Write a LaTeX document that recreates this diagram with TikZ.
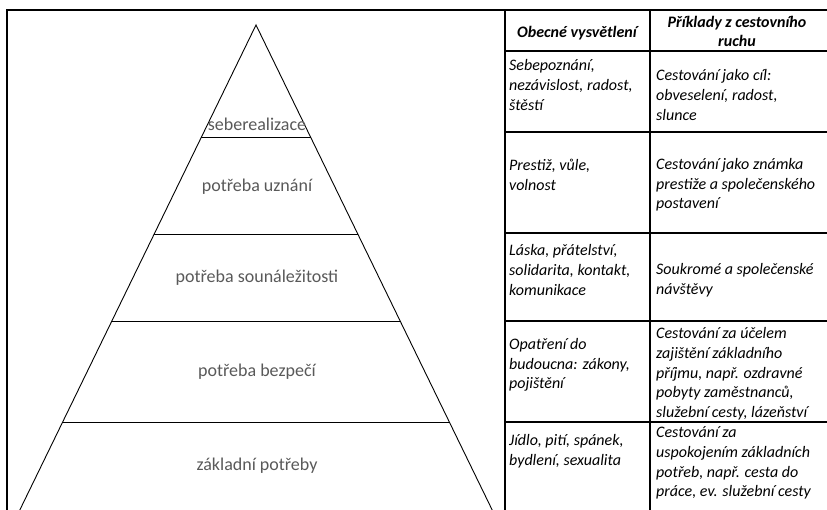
\documentclass[tikz,border=0pt]{standalone}
\usepackage{fontspec}
\setmainfont{Carlito}
\definecolor{pyrgray}{RGB}{89,89,89}
\def\apexx{256}
\def\slope{0.487}

\begin{document}
\begin{tikzpicture}[x=1pt,y=-1pt,
    frame/.style={line width=1.1pt},
    level/.style={text=pyrgray,font=\fontsize{18}{20}\selectfont,inner sep=0pt},
    head/.style={align=center,font=\bfseries\itshape\fontsize{16}{19.7}\selectfont,inner sep=0pt},
    cell/.style={anchor=west,align=left,font=\itshape\fontsize{16}{19.7}\selectfont,inner sep=0pt}]

  \useasboundingbox (0,0) rectangle (827,509);
  \clip (0,0) rectangle (827,509);

  % Left box with the pyramid
  \draw[frame] (7,530) -- (7,10) -- (830,10);
  \draw[frame] (505,10) -- (505,530);

  \coordinate (apex) at (\apexx,25);
  \draw[line width=0.9pt] ({\apexx-\slope*505},530) -- (apex) -- ({\apexx+\slope*505},530);
  \foreach \y in {137,234,321,422} {
    \pgfmathsetmacro\hw{\slope*(\y-25)}
    \draw[line width=0.9pt] ({\apexx-\hw},\y) -- ({\apexx+\hw},\y);
  }

  \node[level] (lvl5) at (257,124) {seberealizace};
  \node[level] (lvl4) at (257,187) {potřeba uznání};
  \node[level] (lvl3) at (257,278) {potřeba sounáležitosti};
  \node[level] (lvl2) at (257,372) {potřeba bezpečí};
  \node[level] (lvl1) at (257,466) {základní potřeby};

  % Table
  \draw[frame] (650,10) -- (650,530);
  \foreach \y in {51,132,233,321,422}
    \draw[frame] (505,\y) -- (830,\y);

  \node[head] (hdA) at (577,33) {Obecné vysvětlení};
  \node[head] (hdB) at (737,31.5) {Příklady z cestovního\\ruchu};

  \node[cell] (expl5) at (509,85) {Sebepoznání,\\nezávislost, radost,\\štěstí};
  \node[cell] (exmp5) at (656,95) {Cestování jako cíl:\\obveselení, radost,\\slunce};
  \node[cell] (expl4) at (509,175) {Prestiž, vůle,\\volnost};
  \node[cell] (exmp4) at (656,185) {Cestování jako známka\\prestiže a společenského\\postavení};
  \node[cell] (expl3) at (509,270) {Láska, přátelství,\\solidarita, kontakt,\\komunikace};
  \node[cell] (exmp3) at (656,280.5) {Soukromé a společenské\\návštěvy};
  \node[cell] (expl2) at (509,365) {Opatření do\\budoucna: zákony,\\pojištění};
  \node[cell] (exmp2) at (656,374) {Cestování za účelem\\zajištění základního\\příjmu, např. ozdravné\\pobyty zaměstnanců,\\služební cesty, lázeňství};
  \node[cell] (expl1) at (509,451) {Jídlo, pití, spánek,\\bydlení, sexualita};
  \node[cell] (exmp1) at (656,463) {Cestování za\\uspokojením základních\\potřeb, např. cesta do\\práce, ev. služební cesty};

\end{tikzpicture}
\end{document}
